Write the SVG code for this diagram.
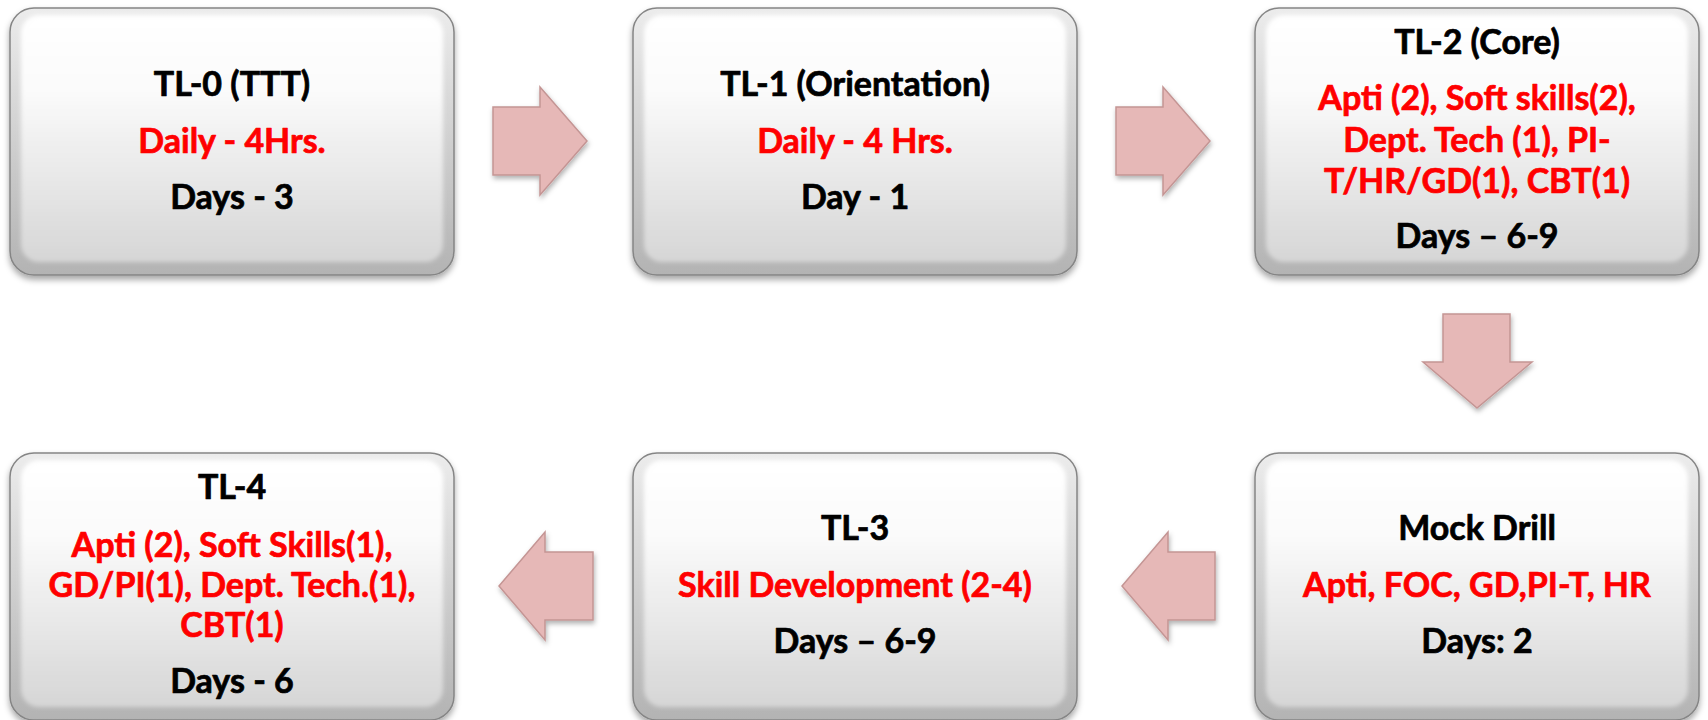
<svg xmlns="http://www.w3.org/2000/svg" width="1708" height="720" viewBox="0 0 1708 720">
<defs>
<linearGradient id="gOuter" x1="0" y1="0" x2="0" y2="1">
<stop offset="0" stop-color="#ececec"/>
<stop offset="1" stop-color="#b3b3b3"/>
</linearGradient>
<linearGradient id="gInner" x1="0" y1="0" x2="0" y2="1">
<stop offset="0" stop-color="#ffffff"/>
<stop offset="0.3" stop-color="#fbfbfb"/>
<stop offset="1" stop-color="#d6d6d6"/>
</linearGradient>
<filter id="shadow" x="-5%" y="-5%" width="110%" height="115%">
<feDropShadow dx="0" dy="4" stdDeviation="3" flood-color="#000" flood-opacity="0.35"/>
</filter>
<filter id="soft" x="-5%" y="-5%" width="110%" height="110%">
<feGaussianBlur stdDeviation="2"/>
</filter>
<filter id="ashadow" x="-20%" y="-20%" width="140%" height="140%">
<feDropShadow dx="1" dy="3" stdDeviation="2.5" flood-color="#000" flood-opacity="0.3"/>
</filter>
</defs>
<style>
.box{fill:url(#gOuter);stroke:#858585;stroke-width:1.5;filter:url(#shadow)}
.inner{fill:url(#gInner);filter:url(#soft)}
text{font-family:Lato,"Liberation Sans",sans-serif;font-weight:bold;font-size:34px;text-anchor:middle;stroke-width:0.7;stroke-linejoin:round}
.k{fill:#000;stroke:#000}
.r{fill:#ff0000;stroke:#ff0000}
.arrow{fill:#e6b8b7;stroke:#c49594;stroke-width:1.5;stroke-linejoin:miter;filter:url(#ashadow)}
</style>
<rect width="1708" height="720" fill="#ffffff"/>

<g id="node-tl0">
<rect class="box" x="10" y="8" width="444" height="267" rx="24"/>
<rect class="inner" x="21" y="15" width="422" height="247" rx="18"/>
<text class="k" x="232" y="96">TL-0 (TTT)</text>
<text class="r" x="232" y="153">Daily - 4Hrs.</text>
<text class="k" x="232" y="209">Days - 3</text>
</g>

<g id="node-tl1">
<rect class="box" x="633" y="8" width="444" height="267" rx="24"/>
<rect class="inner" x="644" y="15" width="422" height="247" rx="18"/>
<text class="k" x="855" y="96">TL-1 (Orientation)</text>
<text class="r" x="855" y="153">Daily - 4 Hrs.</text>
<text class="k" x="855" y="209">Day - 1</text>
</g>

<g id="node-tl2">
<rect class="box" x="1255" y="8" width="444" height="267" rx="24"/>
<rect class="inner" x="1266" y="15" width="422" height="247" rx="18"/>
<text class="k" x="1477" y="54">TL-2 (Core)</text>
<text class="r" x="1477" y="110">Apti (2), Soft skills(2),</text>
<text class="r" x="1477" y="152">Dept. Tech (1), PI-</text>
<text class="r" x="1477" y="193">T/HR/GD(1), CBT(1)</text>
<text class="k" x="1477" y="248">Days – 6-9</text>
</g>

<g id="node-mock">
<rect class="box" x="1255" y="453" width="444" height="267" rx="24"/>
<rect class="inner" x="1266" y="460" width="422" height="247" rx="18"/>
<text class="k" x="1477" y="540">Mock Drill</text>
<text class="r" x="1477" y="597">Apti, FOC, GD,PI-T, HR</text>
<text class="k" x="1477" y="653">Days: 2</text>
</g>

<g id="node-tl3">
<rect class="box" x="633" y="453" width="444" height="267" rx="24"/>
<rect class="inner" x="644" y="460" width="422" height="247" rx="18"/>
<text class="k" x="855" y="540">TL-3</text>
<text class="r" x="855" y="597">Skill Development (2-4)</text>
<text class="k" x="855" y="653">Days – 6-9</text>
</g>

<g id="node-tl4">
<rect class="box" x="10" y="453" width="444" height="267" rx="24"/>
<rect class="inner" x="21" y="460" width="422" height="247" rx="18"/>
<text class="k" x="232" y="499">TL-4</text>
<text class="r" x="232" y="557">Apti (2), Soft Skills(1),</text>
<text class="r" x="232" y="597">GD/PI(1), Dept. Tech.(1),</text>
<text class="r" x="232" y="637">CBT(1)</text>
<text class="k" x="232" y="693">Days - 6</text>
</g>

<g id="connectors">
<polygon class="arrow" points="493,107 540,107 540,87 587,141 540,195 540,175 493,175"/>
<polygon class="arrow" points="1116,107 1163,107 1163,87 1210,141 1163,195 1163,175 1116,175"/>
<polygon class="arrow" points="1443,314 1510,314 1510,362 1532,362 1477,408 1423,362 1443,362"/>
<polygon class="arrow" points="1122,586 1168,532 1168,552 1215,552 1215,620 1168,620 1168,640"/>
<polygon class="arrow" points="499,586 545,532 545,552 593,552 593,620 545,620 545,640"/>
</g>
</svg>
